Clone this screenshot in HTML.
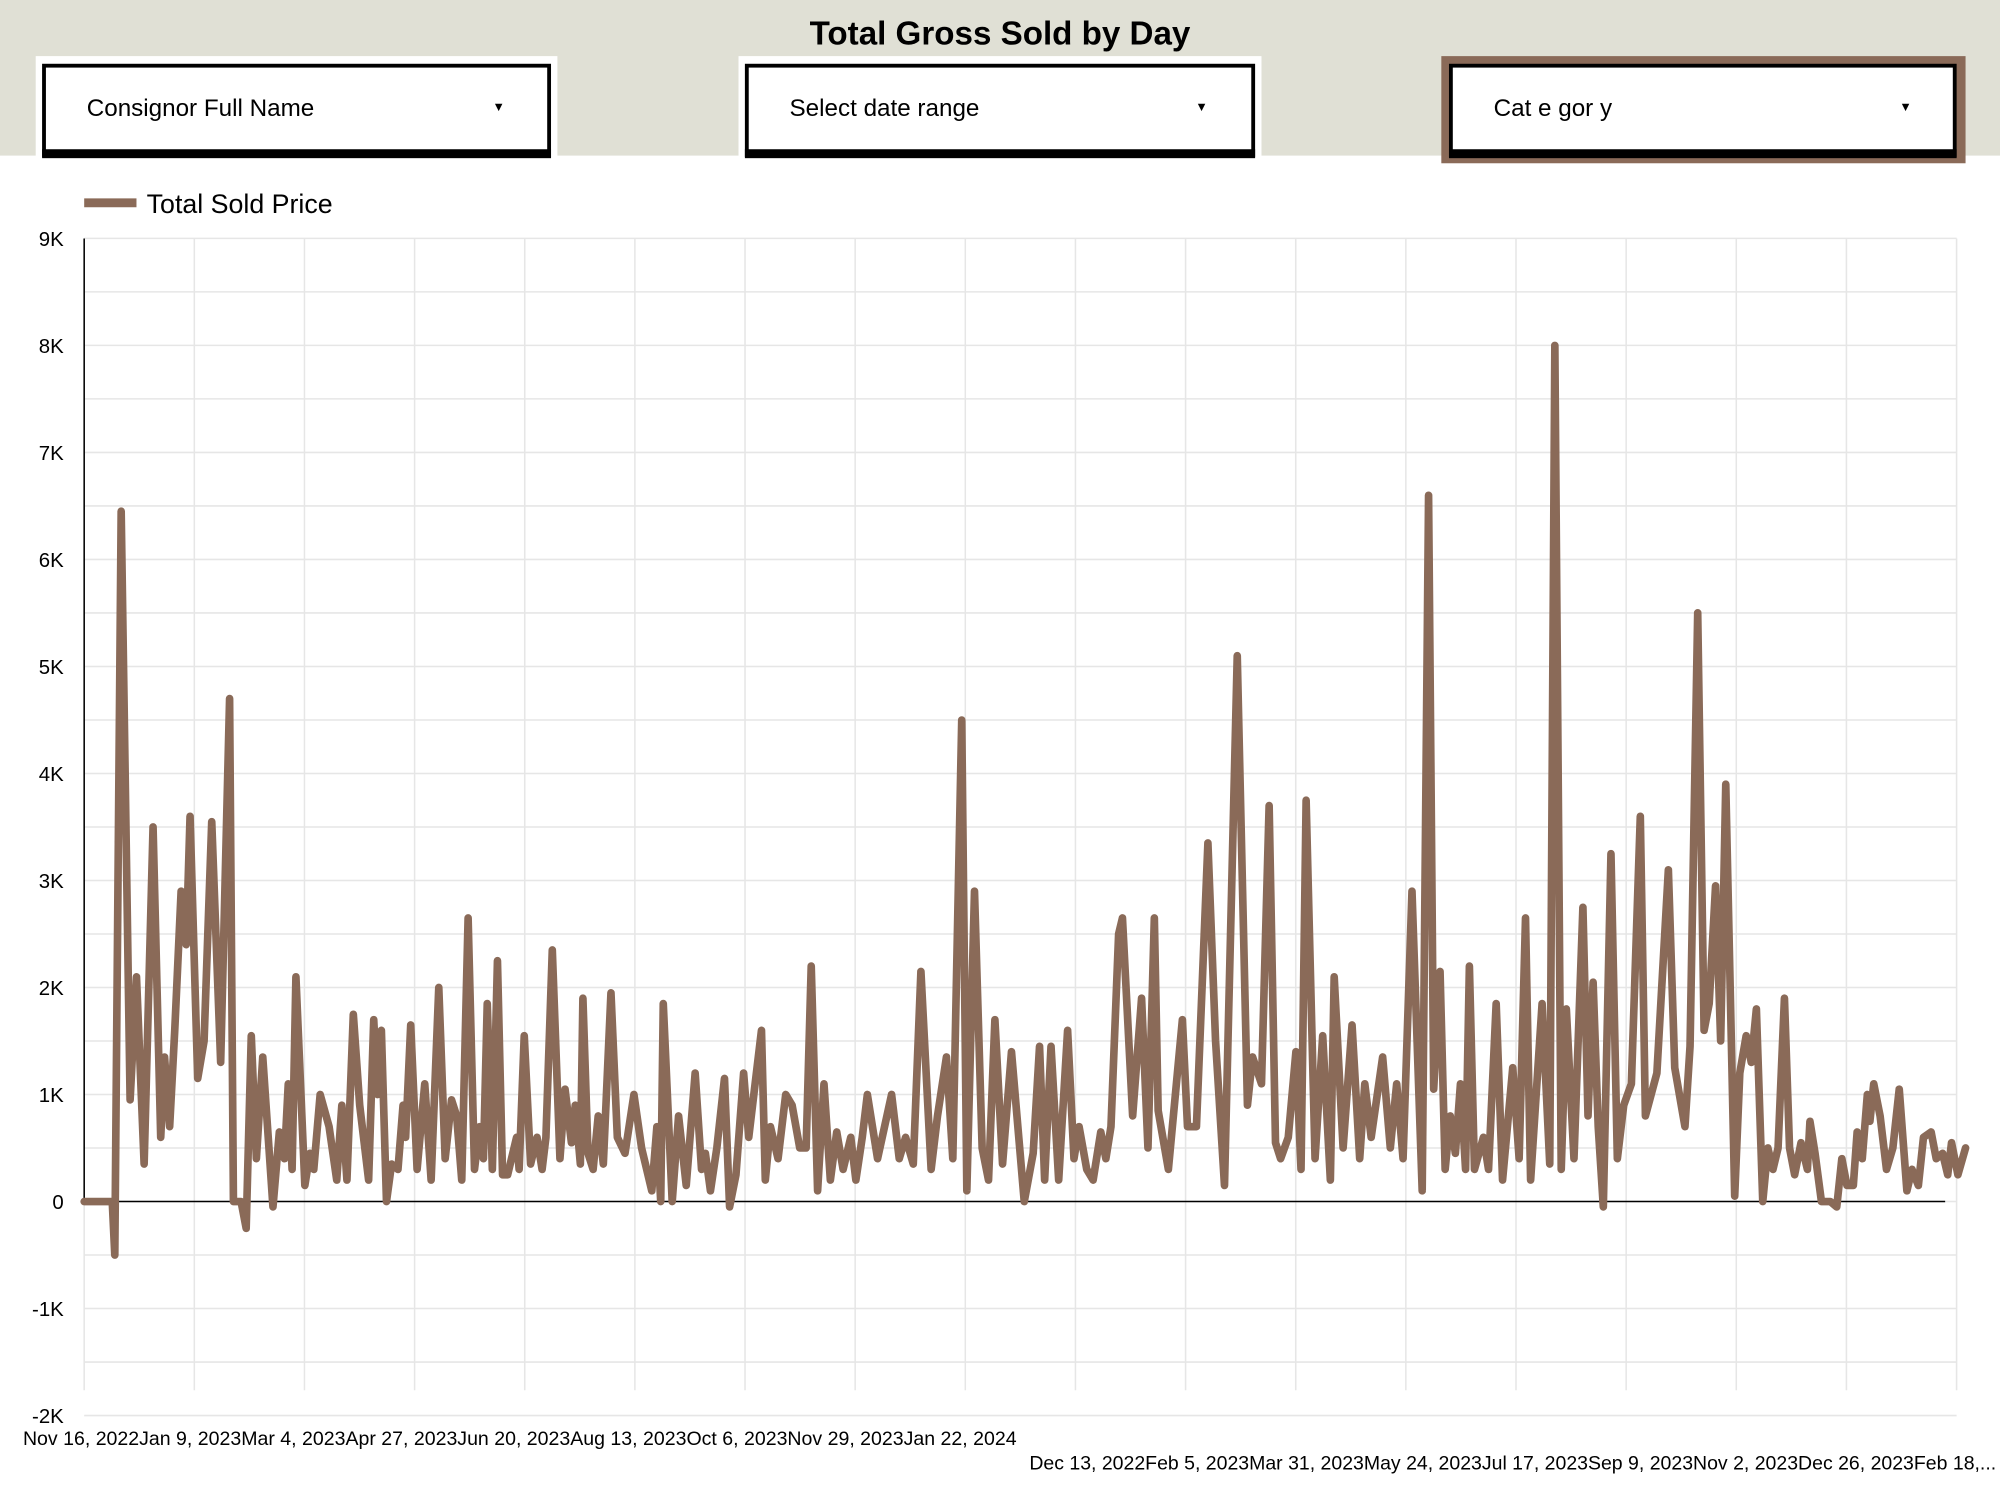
<!DOCTYPE html>
<html><head><meta charset="utf-8">
<style>
html,body{margin:0;padding:0;background:#fff;}
svg{display:block;}
text{font-family:"Liberation Sans",sans-serif;}
</style></head>
<body>
<svg id="s" width="2000" height="1500" viewBox="0 0 1568 1176" xmlns="http://www.w3.org/2000/svg">
<rect x="0" y="0" width="1568" height="1176" fill="#fff"/>
<rect x="0" y="0" width="1568" height="122" fill="#e0e0d5"/>
<text x="784" y="35" text-anchor="middle" font-size="26" font-weight="bold" fill="#000">Total Gross Sold by Day</text>

<rect x="28" y="44" width="409" height="82" fill="#fff"/>
<rect x="34.5" y="51.5" width="396" height="70" fill="#fff" stroke="#000" stroke-width="3"/>
<rect x="33" y="117" width="399" height="7" fill="#000"/>
<text x="68" y="91" font-size="19" fill="#000">Consignor Full Name</text>
<text x="391" y="87" font-size="10" text-anchor="middle" fill="#000">▼</text>

<rect x="579" y="44" width="410" height="82" fill="#fff"/>
<rect x="585.5" y="51.5" width="397" height="70" fill="#fff" stroke="#000" stroke-width="3"/>
<rect x="584" y="117" width="400" height="7" fill="#000"/>
<text x="619" y="91" font-size="19" fill="#000">Select date range</text>
<text x="942" y="87" font-size="10" text-anchor="middle" fill="#000">▼</text>

<rect x="1130" y="44" width="411" height="84" fill="#8a6a58"/>
<rect x="1137.5" y="51.5" width="395" height="70" fill="#fff" stroke="#000" stroke-width="3"/>
<rect x="1136" y="117" width="398" height="7" fill="#000"/>
<text x="1171" y="91" font-size="19" fill="#000">Cat e gor y</text>
<text x="1494" y="87" font-size="10" text-anchor="middle" fill="#000">▼</text>

<line x1="66" y1="159" x2="107" y2="159" stroke="#8a6a58" stroke-width="7"/>
<text x="115" y="167" font-size="21" fill="#000">Total Sold Price</text>

<g id="grid" stroke="#e6e6e6" stroke-width="1.2"></g>
<g id="ylab" font-size="16" fill="#000" text-anchor="end"></g>
<line x1="66" y1="187" x2="66" y2="942" stroke="#000" stroke-width="1.2"/>
<line x1="66" y1="942" x2="1525" y2="942" stroke="#000" stroke-width="1.2"/>
<polyline id="ln" fill="none" stroke="#8a6a58" stroke-width="6" stroke-linejoin="round" stroke-linecap="round"/>

<text x="18" y="1133" font-size="15.5" fill="#000" textLength="779" lengthAdjust="spacingAndGlyphs">Nov 16, 2022Jan 9, 2023Mar 4, 2023Apr 27, 2023Jun 20, 2023Aug 13, 2023Oct 6, 2023Nov 29, 2023Jan 22, 2024</text>
<text x="807" y="1152" font-size="15.5" fill="#000" textLength="758" lengthAdjust="spacingAndGlyphs">Dec 13, 2022Feb 5, 2023Mar 31, 2023May 24, 2023Jul 17, 2023Sep 9, 2023Nov 2, 2023Dec 26, 2023Feb 18,...</text>
</svg>
<script>
var ns="http://www.w3.org/2000/svg";
var g=document.getElementById('grid'),yl=document.getElementById('ylab');
function Y(v){return 942-v*83.9;}
for(var v=-2;v<=9.001;v+=0.5){var l=document.createElementNS(ns,'line');l.setAttribute('x1',66);l.setAttribute('x2',1534);l.setAttribute('y1',Y(v));l.setAttribute('y2',Y(v));g.appendChild(l);}
for(var i=0;i<18;i++){var x=66+i*86.35;var l=document.createElementNS(ns,'line');l.setAttribute('x1',x);l.setAttribute('x2',x);l.setAttribute('y1',187);l.setAttribute('y2',1090);g.appendChild(l);}
var labs=[[9,'9K'],[8,'8K'],[7,'7K'],[6,'6K'],[5,'5K'],[4,'4K'],[3,'3K'],[2,'2K'],[1,'1K'],[0,'0'],[-1,'-1K'],[-2,'-2K']];
labs.forEach(function(a){var t=document.createElementNS(ns,'text');t.setAttribute('x',50);t.setAttribute('y',Y(a[0])+6);t.textContent=a[1];yl.appendChild(t);});
var d=[66,0,88,0,90,-0.5,95,6.45,102,0.95,107,2.1,113,0.35,120,3.5,126,0.6,129,1.35,133,0.7,137,1.6,142,2.9,146,2.4,149,3.6,155,1.15,160,1.5,166,3.55,173,1.3,180,4.7,183,0,189,0,193,-0.25,197,1.55,201,0.4,206,1.35,214,-0.05,219,0.65,223,0.4,226,1.1,229,0.3,232,2.1,239,0.15,243,0.45,246,0.3,251,1.0,258,0.7,264,0.2,268,0.9,272,0.2,277,1.75,282,0.9,289,0.2,293,1.7,296,1.0,299,1.6,303,0.0,307,0.35,312,0.3,316,0.9,318,0.6,322,1.65,327,0.3,333,1.1,338,0.2,344,2.0,349,0.4,354,0.95,358,0.8,362,0.2,367,2.65,372,0.3,376,0.7,379,0.4,382,1.85,386,0.3,390,2.25,394,0.25,398,0.25,405,0.6,407,0.3,411,1.55,416,0.35,421,0.6,425,0.3,428,0.6,433,2.35,439,0.4,443,1.05,448,0.55,451,0.9,455,0.35,457,1.9,461,0.45,465,0.3,469,0.8,473,0.35,479,1.95,484,0.6,490,0.45,497,1.0,503,0.5,511,0.1,515,0.7,518,0.0,520,1.85,527,0.0,532,0.8,538,0.15,545,1.2,550,0.3,553,0.45,557,0.1,562,0.5,568,1.15,572,-0.05,577,0.25,583,1.2,587,0.6,591,1.0,597,1.6,600,0.2,604,0.7,610,0.4,616,1.0,621,0.9,627,0.5,632,0.5,636,2.2,641,0.1,646,1.1,651,0.2,656,0.65,661,0.3,667,0.6,671,0.2,676,0.6,680,1.0,688,0.4,699,1.0,705,0.4,710,0.6,716,0.35,722,2.15,730,0.3,735,0.8,742,1.35,747,0.4,754,4.5,758,0.1,764,2.9,770,0.5,775,0.2,780,1.7,786,0.35,793,1.4,803,0.0,810,0.45,815,1.45,819,0.2,824,1.45,830,0.2,837,1.6,842,0.4,846,0.7,852,0.3,857,0.2,863,0.65,867,0.4,871,0.7,877,2.5,880,2.65,888,0.8,895,1.9,900,0.5,905,2.65,908,0.85,916,0.3,927,1.7,931,0.7,938,0.7,947,3.35,953,1.5,960,0.15,970,5.1,978,0.9,982,1.35,989,1.1,995,3.7,1000,0.55,1004,0.4,1010,0.6,1016,1.4,1020,0.3,1024,3.75,1031,0.4,1037,1.55,1043,0.2,1046,2.1,1053,0.5,1060,1.65,1066,0.4,1070,1.1,1075,0.6,1084,1.35,1090,0.5,1095,1.1,1100,0.4,1107,2.9,1115,0.1,1120,6.6,1124,1.05,1129,2.15,1133,0.3,1137,0.8,1141,0.45,1145,1.1,1149,0.3,1152,2.2,1156,0.3,1163,0.6,1167,0.3,1173,1.85,1178,0.2,1186,1.25,1191,0.4,1196,2.65,1200,0.2,1209,1.85,1215,0.35,1219,8.0,1224,0.3,1228,1.8,1234,0.4,1241,2.75,1245,0.8,1249,2.05,1253,0.7,1257,-0.05,1263,3.25,1268,0.4,1273,0.9,1279,1.1,1286,3.6,1290,0.8,1299,1.2,1308,3.1,1313,1.25,1321,0.7,1325,1.45,1331,5.5,1336,1.6,1340,1.85,1345,2.95,1349,1.5,1353,3.9,1360,0.05,1364,1.2,1369,1.55,1373,1.3,1377,1.8,1382,0.0,1386,0.5,1390,0.3,1394,0.5,1399,1.9,1403,0.5,1407,0.25,1412,0.55,1417,0.3,1419,0.75,1423,0.45,1428,0.0,1435,0.0,1440,-0.05,1444,0.4,1448,0.15,1453,0.15,1456,0.65,1460,0.4,1464,1.0,1466,0.75,1469,1.1,1474,0.8,1479,0.3,1484,0.5,1489,1.05,1495,0.1,1499,0.3,1504,0.15,1508,0.6,1514,0.65,1518,0.4,1523,0.45,1527,0.25,1530,0.55,1535,0.25,1541,0.5];
var p=[];for(var i=0;i<d.length;i+=2){p.push(d[i]+','+Y(d[i+1]).toFixed(1));}
document.getElementById('ln').setAttribute('points',p.join(' '));
</script>
</body></html>
